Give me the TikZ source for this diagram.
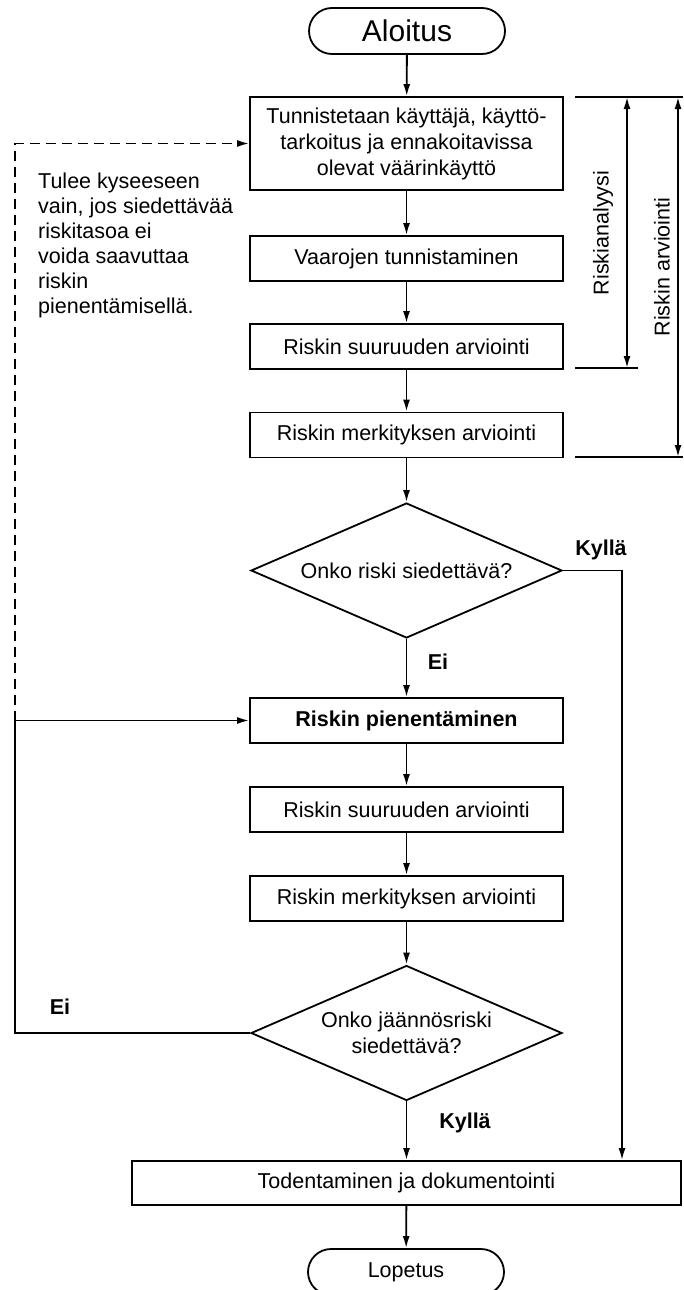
\documentclass[tikz,border=0pt]{standalone}
\usepackage{fontspec}
\setmainfont{Liberation Sans}
\usetikzlibrary{shapes.geometric,arrows.meta}
\begin{document}
\begin{tikzpicture}[x=1pt,y=-1pt,
  every node/.style={font=\fontsize{21.5}{26}\selectfont},
  proc/.style={draw,line width=1.8pt,minimum width=313pt,minimum height=45pt,inner sep=0pt,align=center},
  term/.style={draw,line width=1.8pt,rounded corners=23pt,minimum width=196pt,minimum height=46pt,inner sep=0pt},
  dec/.style={draw,diamond,aspect=2.3,line width=1.8pt,minimum width=311pt,minimum height=135pt,inner sep=0pt,align=center},
  conn/.style={line width=1.8pt,-{Latex[length=12pt,width=7pt]}},
  bline/.style={line width=1.8pt},
  dimarrow/.style={line width=1.8pt,{Latex[length=12pt,width=7pt]}-{Latex[length=12pt,width=7pt]}},
  lbl/.style={font=\bfseries\fontsize{21.5}{26}\selectfont}
]
\useasboundingbox (0,0) rectangle (683,1290);

% nodes
\node[term,font=\fontsize{30}{36}\selectfont] (alo) at (407,31) {Aloitus};
\node[proc,minimum height=93pt] (b1) at (406.5,143.5) {Tunnistetaan käyttäjä, käyttö-\\tarkoitus ja ennakoitavissa\\olevat väärinkäyttö};
\node[proc] (b2) at (406.5,258.5) {Vaarojen tunnistaminen};
\node[proc] (b3) at (406.5,346.5) {Riskin suuruuden arviointi};
\node[proc] (b4) at (406.5,435) {Riskin merkityksen arviointi};
\node[dec] (d1) at (406.5,570.5) {Onko riski siedettävä?};
\node[proc,font=\bfseries\fontsize{21.5}{26}\selectfont] (b5) at (406.5,720.5) {Riskin pienentäminen};
\node[proc] (b6) at (406.5,809.5) {Riskin suuruuden arviointi};
\node[proc] (b7) at (406.5,898.5) {Riskin merkityksen arviointi};
\node[dec] (d2) at (406.5,1033) {Onko jäännösriski\\siedettävä?};
\node[proc,minimum width=549pt,minimum height=44pt] (tod) at (406.5,1183) {Todentaminen ja dokumentointi};
\node[term] (lop) at (406,1272) {Lopetus};

\node[anchor=west,align=left,inner sep=0pt,font=\fontsize{21.5}{25}\selectfont] (note) at (38,245.5)
  {Tulee kyseeseen\\vain, jos siedettävää\\riskitasoa ei\\voida saavuttaa\\riskin\\pienentämisellä.};

\node[lbl] (kyl1) at (601,550) {Kyllä};
\node[lbl] (ei1) at (438,662) {Ei};
\node[lbl] (ei2) at (60,1007) {Ei};
\node[lbl] (kyl2) at (465,1123) {Kyllä};

\node[rotate=90] (ra) at (603,233) {Riskianalyysi};
\node[rotate=90] (rv) at (662,267) {Riskin arviointi};

% main flow
\draw[conn] (alo) -- (b1);
\draw[conn] (b1) -- (b2);
\draw[conn] (b2) -- (b3);
\draw[conn] (b3) -- (b4);
\draw[conn] (b4) -- (d1);
\draw[conn] (d1) -- (b5);
\draw[conn] (b5) -- (b6);
\draw[conn] (b6) -- (b7);
\draw[conn] (b7) -- (d2);
\draw[conn] (d2) -- (tod);
\draw[conn] (tod) -- (lop);

% yes branch from first decision
\coordinate (kr) at (622,570.5);
\draw[conn] (d1.east) -- (kr) -- (kr |- tod.north);

% no branch from second decision
\coordinate (lb) at (15,1033);
\coordinate (lj) at (15,720.5);
\coordinate (lt) at (15,143.5);
\draw[bline] (d2.west) -- (lb) -- (lj);
\draw[conn] (lj) -- (b5.west);
\draw[conn,dash pattern=on 10pt off 6pt] (lj) -- (lt) -- (b1.west);

% right brackets
\coordinate (t1) at (575,97);
\coordinate (t2) at (683,97);
\coordinate (m1) at (575,368);
\coordinate (m2) at (638,368);
\coordinate (e1) at (575,457);
\coordinate (e2) at (683,457);
\draw[bline] (t1) -- (t2);
\draw[bline] (m1) -- (m2);
\draw[bline] (e1) -- (e2);
\coordinate (ra1) at (627,97);
\coordinate (ra2) at (627,368);
\coordinate (rv1) at (678,97);
\coordinate (rv2) at (678,457);
\draw[dimarrow] (ra1) -- (ra2);
\draw[dimarrow] (rv1) -- (rv2);
\end{tikzpicture}
\end{document}
